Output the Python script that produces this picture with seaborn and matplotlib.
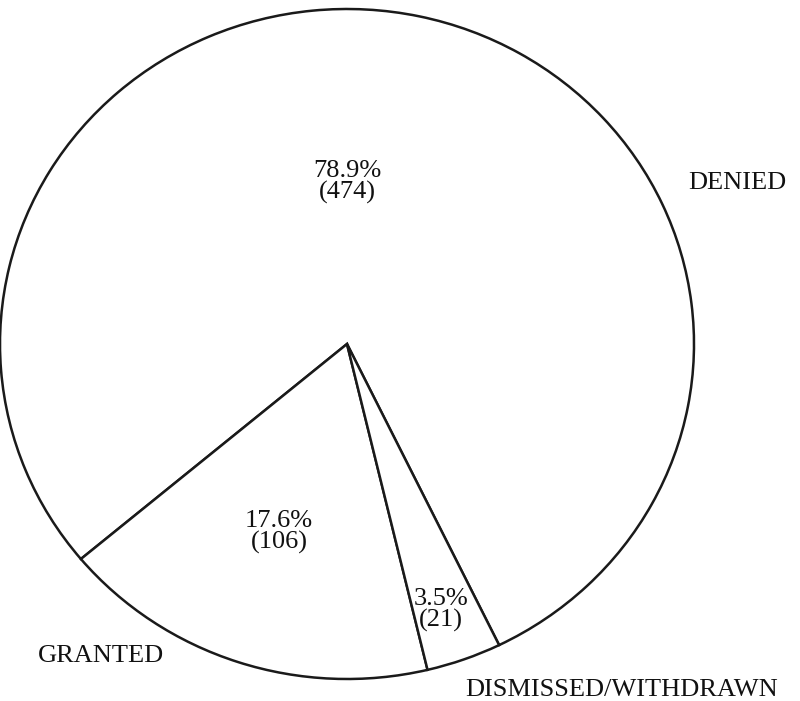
import matplotlib
matplotlib.use("Agg")
import matplotlib.pyplot as plt
import seaborn as sns

categories = ["DENIED", "GRANTED", "DISMISSED/WITHDRAWN"]
counts = [474, 106, 21]
pct_labels = ["78.9%", "17.6%", "3.5%"]

sns.set_theme(style="white")
plt.rcParams["font.family"] = ["Liberation Serif", "DejaVu Serif"]

# pixel geometry of the scanned original (slightly squashed circle)
cx, cy, rx, ry = 347, 344, 347, 335
W, H = 800, 701

fig = plt.figure(figsize=(8, 7.01), dpi=100)
ax = fig.add_axes([0, 0, 1, 1])
wedges, _ = ax.pie(counts, startangle=296.0, counterclock=True,
                   colors=["white"] * 3,
                   wedgeprops=dict(edgecolor="#1a1a1a", linewidth=1.8))
ax.set_xlim(-cx / rx, (W - cx) / rx)
ax.set_ylim(-(H - cy) / ry, cy / ry)
ax.set_aspect("auto")
ax.axis("off")


def px(x, y):
    return (x - cx) / rx, (cy - y) / ry


inner = [(347, 182), (279, 532), (441, 610)]
for (x, y), p, c in zip(inner, pct_labels, counts):
    ax.text(*px(x, y), f"{p}\n({c})", ha="center", va="center",
            fontsize=19, linespacing=0.92, color="#111111")

outer = [(737, 183), (101, 656), (622, 690)]
for (x, y), name in zip(outer, categories):
    ax.text(*px(x, y), name, ha="center", va="center",
            fontsize=19, color="#111111")

fig.savefig("out.png", dpi=100, facecolor="white")
